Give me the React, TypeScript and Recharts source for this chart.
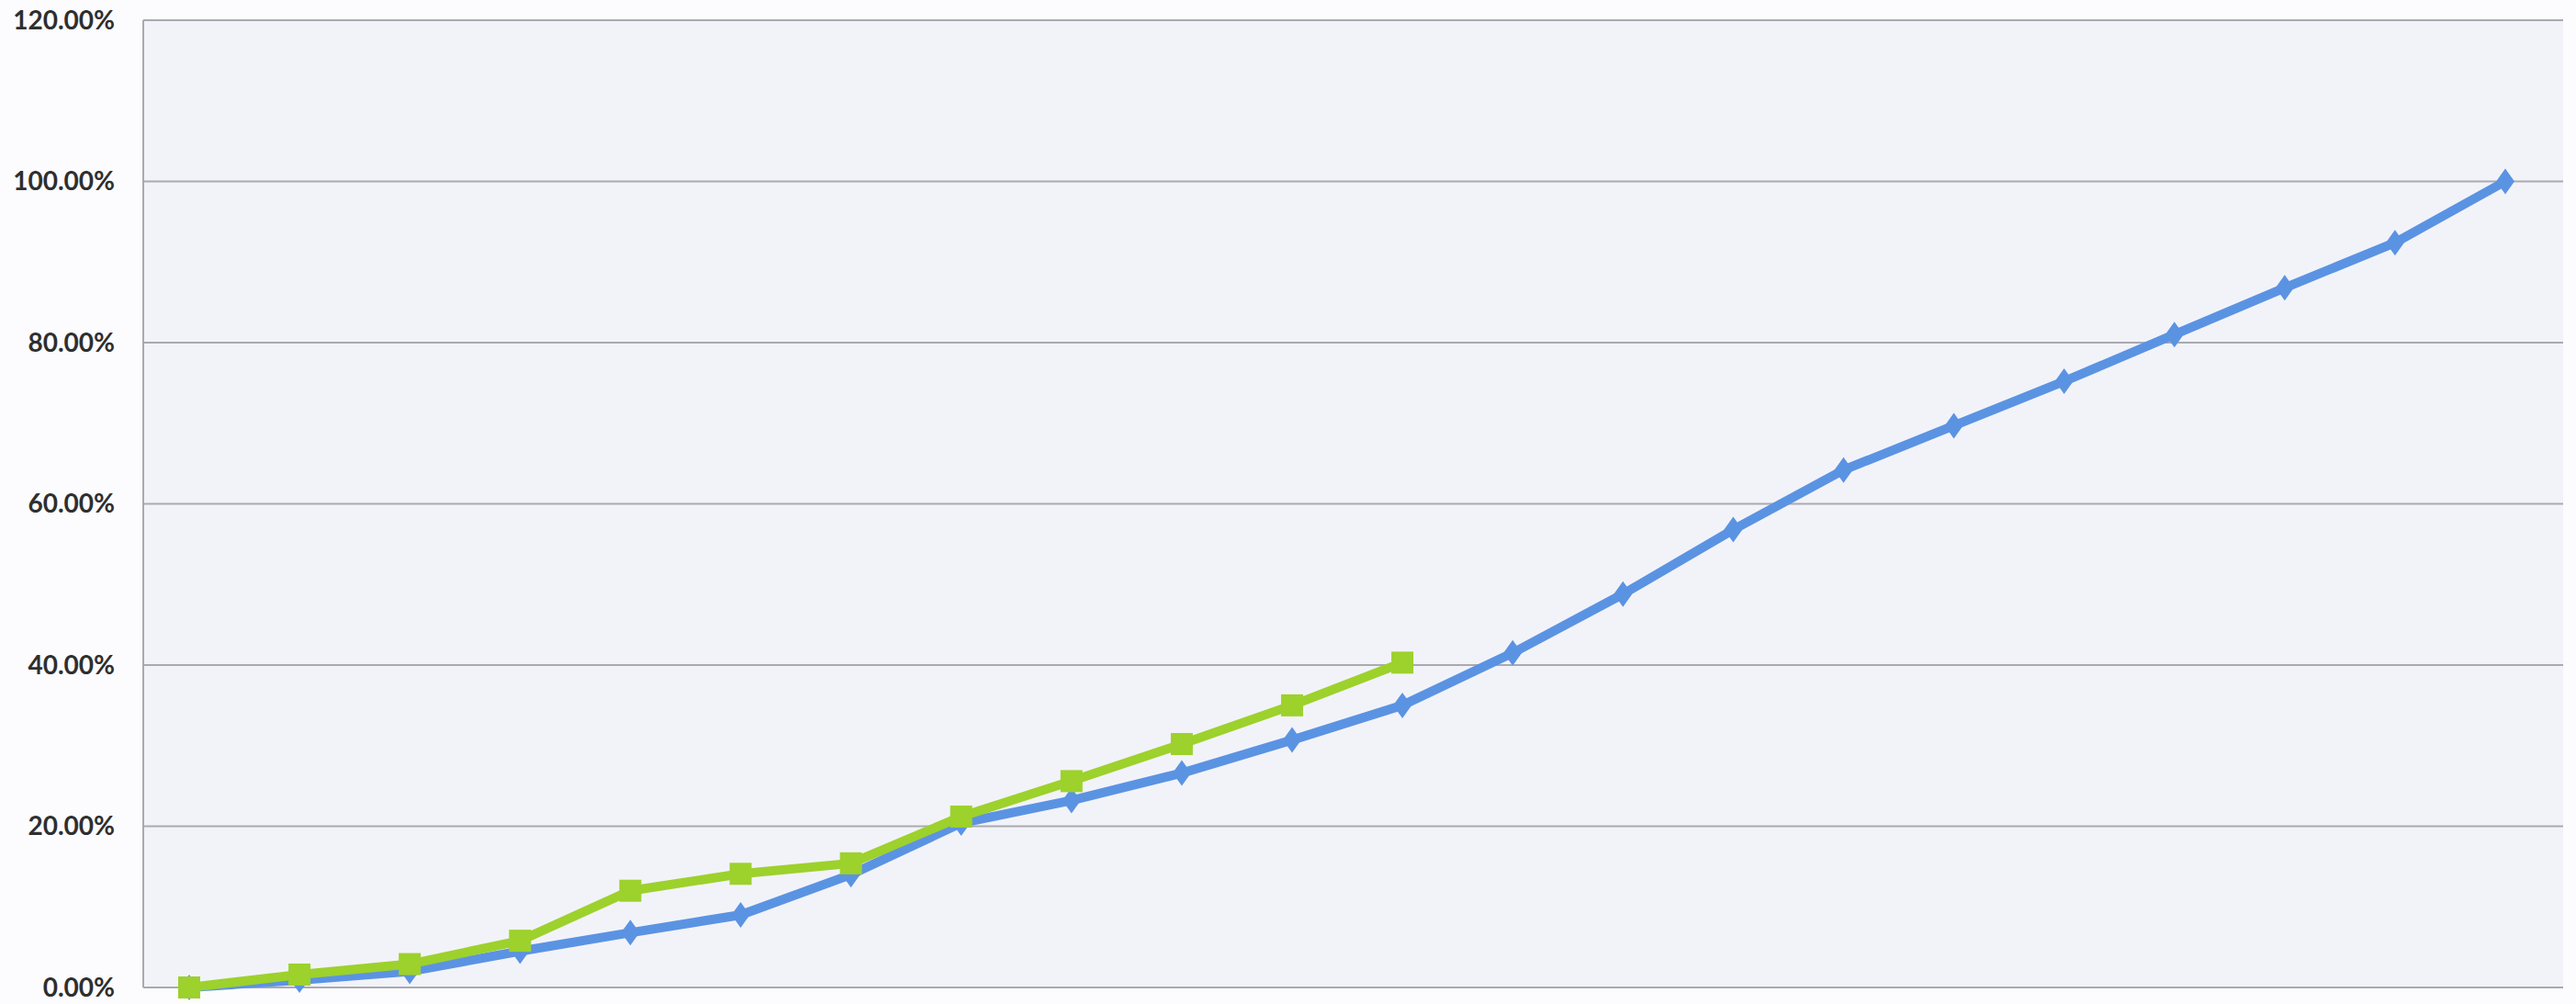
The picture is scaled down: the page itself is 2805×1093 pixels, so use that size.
import { LineChart, Line, XAxis, YAxis, CartesianGrid } from 'recharts'

// cumulative progress, in percent
const periods = ['1', '2', '3', '4', '5', '6', '7', '8', '9', '10', '11', '12', '13', '14', '15', '16', '17', '18', '19', '20', '21', '22']
const planned = [0, 0.9, 2.0, 4.5, 6.8, 9.0, 14.0, 20.4, 23.2, 26.6, 30.7, 35.0, 41.5, 48.8, 56.8, 64.2, 69.7, 75.2, 81.0, 86.8, 92.4, 100]
const actual = [0, 1.6, 2.9, 5.8, 12.0, 14.1, 15.4, 21.2, 25.6, 30.2, 35.0, 40.3]
const yTicks = [0, 20, 40, 60, 80, 100, 120]

const data = periods.map((p, i) => ({
  period: p,
  planned: planned[i],
  actual: i < actual.length ? actual[i] : null,
}))

const BLUE = '#5b93e3'
const GREEN = '#9dd12c'

const Diamond = (props: any) => {
  const { cx, cy } = props
  if (cx == null || cy == null) return null
  return <path d={`M${cx},${cy - 14} L${cx + 10},${cy} L${cx},${cy + 14} L${cx - 10},${cy} Z`} fill={BLUE} />
}

const Square = (props: any) => {
  const { cx, cy } = props
  if (cx == null || cy == null) return null
  return <rect x={cx - 12} y={cy - 12} width={24} height={24} fill={GREEN} />
}

export default function App() {
  return (
    <div style={{ position: 'absolute', left: 0, top: 0, width: 2805, height: 1093, background: '#fcfcfe' }}>
      <LineChart width={2805} height={1093} data={data} margin={{ top: 22, right: 14, left: 0, bottom: 18 }}>
        <CartesianGrid vertical={false} stroke="#a9a9b0" strokeWidth={2} fill="#f2f3f9" />
        <XAxis dataKey="period" hide padding={{ left: 50, right: 63 }} />
        <YAxis
          domain={[0, 120]}
          ticks={yTicks}
          interval={0}
          width={156}
          tickFormatter={(v: number) => `${v.toFixed(2)}%`}
          axisLine={{ stroke: '#a9a9b0', strokeWidth: 2 }}
          tickLine={false}
          tickSize={0}
          tickMargin={31}
          tick={{ fontFamily: 'Lato', fontWeight: 700, fontSize: 28, fill: '#2f2f2f' }}
        />
        <Line dataKey="planned" stroke={BLUE} strokeWidth={10} dot={<Diamond />} activeDot={false} isAnimationActive={false} />
        <Line dataKey="actual" stroke={GREEN} strokeWidth={10} dot={<Square />} activeDot={false} connectNulls={false} isAnimationActive={false} />
      </LineChart>
    </div>
  )
}
